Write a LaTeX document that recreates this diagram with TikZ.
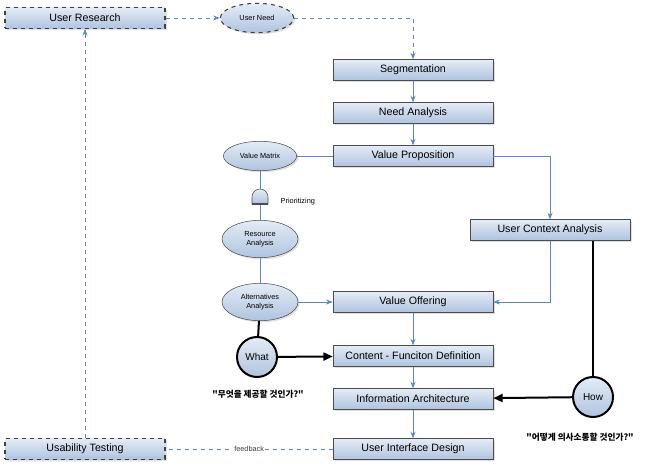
\documentclass[tikz,border=0pt]{standalone}
\usepackage{fontspec}
\setmainfont{Liberation Sans}
\newfontfamily\kr{Noto Sans CJK KR}
\usetikzlibrary{shapes.geometric,arrows.meta,shadows}
\definecolor{bl}{HTML}{5B86C8}
\definecolor{fillT}{HTML}{E4ECF6}
\definecolor{fillB}{HTML}{AFC3DF}
\begin{document}
\begin{tikzpicture}[x=0.75pt,y=-0.75pt,
 box/.style={draw=black!70,thin,top color=fillT,bottom color=fillB,minimum width=120pt,minimum height=15.5pt,font=\fontsize{8}{9}\selectfont,drop shadow={opacity=0.25,shadow xshift=1.5pt,shadow yshift=-1.5pt},inner sep=1pt},
 ell/.style={ellipse,draw=black!70,thin,top color=fillT,bottom color=fillB,font=\fontsize{5.5}{6.5}\selectfont,align=center,inner sep=0pt,drop shadow={opacity=0.25,shadow xshift=1.2pt,shadow yshift=-1.2pt}},
 circ/.style={circle,draw=black,line width=1.5pt,top color=fillT,bottom color=fillB,minimum size=30pt,inner sep=0pt,font=\fontsize{7.5}{9}\selectfont},
 flow/.style={bl,semithick,-{Stealth[length=5pt]}},
 dflow/.style={flow,dashed},
 bk/.style={black,line width=1.5pt},
 dbox/.style={dashed,line width=0.8pt,draw=black!75}]
\useasboundingbox (0,0) rectangle (660,470);
\node[box,dbox] (ur) at (85,18) {User Research};
\node[ell,dbox,minimum width=55pt,minimum height=22pt] (un) at (257,18) {User Need};
\node[box] (seg) at (413,70) {Segmentation};
\node[box] (na) at (413,113) {Need Analysis};
\node[box] (vp) at (413,156) {Value Proposition};
\node[box] (uca) at (550,230) {User Context Analysis};
\node[box] (vo) at (413,302) {Value Offering};
\node[box] (cf) at (413,356) {Content - Funciton Definition};
\node[box] (ia) at (413,399) {Information Architecture};
\node[box] (uid) at (413,449) {User Interface Design};
\node[box,dbox] (ut) at (85,449) {Usability Testing};
\node[ell,minimum width=55pt,minimum height=22pt] (vm) at (260,156) {Value Matrix};
\node[ell,minimum width=57pt,minimum height=28pt] (ra) at (260,239) {Resource\\Analysis};
\node[ell,minimum width=57pt,minimum height=28pt] (aa) at (260,302) {Alternatives\\Analysis};
\node[circ] (what) at (257,357) {What};
\node[circ] (how) at (593,397) {How};
\draw[bl,semithick] (vm) -- (260,190) (260,205) -- (ra);
\draw[black!70,thin,top color=fillT,bottom color=fillB] (252,204) -- (252,197) arc[start angle=180,end angle=0,x radius=8,y radius=-8] -- (268,204) -- cycle;
\draw[black!70,line width=1.2pt] (252,204) -- (268,204);
\node[font=\fontsize{5.5}{6.5}\selectfont,anchor=west] (pl) at (276,202) {Prioritizing};
\draw[bl,semithick] (ra) -- (aa);
\draw[bl,semithick] (vm) -- (vp);
\draw[dflow] (ur) -- (un);
\draw[dflow] (un) -| (seg);
\draw[flow] (seg) -- (na);
\draw[flow] (na) -- (vp);
\draw[flow] (vp) -| (uca);
\draw[flow] (uca.south) |- (vo);
\draw[flow] (aa) -- (vo);
\draw[flow] (vo) -- (cf);
\draw[flow] (cf) -- (ia);
\draw[flow] (ia) -- (uid);
\draw[bl,dashed,semithick] (uid) -- node[fill=white,inner sep=1pt,text=black!75,font=\fontsize{5.5}{6.5}\selectfont] (fb) {feedback} (ut);
\draw[dflow] (ut) -- (ur);
\draw[bk] (aa) -- (what);
\draw[bk,-{Triangle[length=7pt,width=6pt]}] (what) -- (cf);
\draw[bk] (uca.south -| how) -- (how);
\draw[bk,-{Triangle[length=7pt,width=6pt]}] (how) -- (ia);
\node[font=\kr\bfseries\fontsize{6.5}{8}\selectfont] (q1) at (258,394) {"무엇을 제공할 것인가?"};
\node[font=\kr\bfseries\fontsize{6.5}{8}\selectfont] (q2) at (580,437) {"어떻게 의사소통할 것인가?"};
\end{tikzpicture}
\end{document}
